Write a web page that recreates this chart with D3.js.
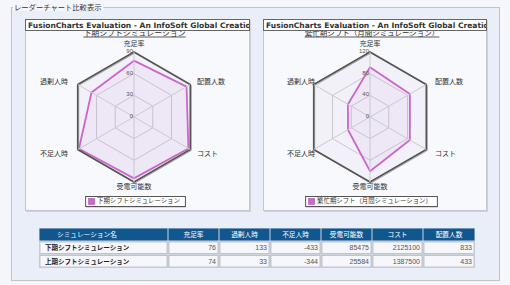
<!DOCTYPE html>
<html><head><meta charset="utf-8">
<script src="https://cdn.jsdelivr.net/npm/d3@7"></script>
<style>html,body{margin:0;padding:0;background:#f4f6fb;} svg{display:block;}</style>
</head><body><svg id="c" width="510" height="285"></svg>
<script>
// ---- data ----
const axisNames = ["充足率", "配置人数", "コスト", "受電可能数", "不足人時", "過剰人時"];
const lowerSeriesName = "下期シフトシミュレーション";
const lowerValues = [78, 84, 87, 85, 88, 68];
const lowerTicks = [0, 30, 60, 90];
const busySeriesName = "繁忙期シフト（月間シミュレーション）";
const busyValues = [92, 85, 85, 100, 47, 47];
const busyTicks = [0, 40, 80, 120];
const chartTitle = "FusionCharts Evaluation - An InfoSoft Global Creation";
const fieldsetLegend = "レーダーチャート比較表示";
const tableColumns = ["シミュレーション名", "充足率", "過剰人時", "不足人時", "受電可能数", "コスト", "配置人数"];
const tableRowNames = ["下期シフトシミュレーション", "上期シフトシミュレーション"];
const tableRow1 = [76, 133, -433, 85475, 2125100, 833];
const tableRow2 = [74, 33, -344, 25584, 1387500, 433];

// ---- drawing ----
const JP = "'Noto Sans CJK JP', sans-serif";
const svg = d3.select("#c");
const seriesColor = "#cc66cc";

// fieldset
svg.append("rect").attr("x", 11.5).attr("y", 7.5).attr("width", 488).attr("height", 273)
  .attr("fill", "#e9eef9").attr("stroke", "#bcc3cf");
const lg = svg.append("text").attr("x", 14).attr("y", 10).attr("font-family", JP)
  .attr("font-size", 7.3).attr("fill", "#333").text(fieldsetLegend);
const lgW = lg.node().getComputedTextLength();
svg.insert("rect", "text").attr("x", 13).attr("y", 4).attr("width", lgW + 3).attr("height", 7)
  .attr("fill", "#f4f6fb");

const charts = [
  { name: lowerSeriesName, values: lowerValues, ticks: lowerTicks, px: 25, pw: 225, cx: 134, lgap: 66, rgap: 63, sub: 7.9 },
  { name: busySeriesName, values: busyValues, ticks: busyTicks, px: 263, pw: 224, cx: 370, lgap: 55, rgap: 65, sub: 7.5 }
];
const py = 19, ph = 192, cy = 117, R = 65;

// measure title font
const meas = svg.append("text").attr("font-family", "'DejaVu Sans', sans-serif").attr("font-weight", "bold")
  .attr("font-size", 10).text(chartTitle.slice(0, -1));
const titleFs = 10 * 223 / meas.node().getComputedTextLength();
meas.remove();

charts.forEach((c, ci) => {
  const g = svg.append("g");
  // panel
  g.append("rect").attr("x", c.px + 1).attr("y", py + 1).attr("width", c.pw).attr("height", ph)
    .attr("fill", "#cfd2d8");
  g.append("rect").attr("x", c.px + 0.5).attr("y", py + 0.5).attr("width", c.pw - 1).attr("height", ph - 1)
    .attr("fill", "#f8f9fd").attr("stroke", "#c4c6cc");

  const r = d3.scaleLinear().domain([0, d3.max(c.ticks)]).range([0, R]);
  const ang = i => i * 2 * Math.PI / axisNames.length;
  const pt = (i, v) => [c.cx + r(v) * Math.sin(ang(i)), cy - r(v) * Math.cos(ang(i))];
  const radial = d3.lineRadial().angle((d, i) => ang(i)).radius(d => r(d)).curve(d3.curveLinearClosed);
  const rg = g.append("g").attr("transform", `translate(${c.cx},${cy})`);
  const maxT = d3.max(c.ticks);

  // background
  rg.append("path").attr("d", radial(axisNames.map(() => maxT))).attr("fill", "#f2f1f9");
  // inner rings
  c.ticks.filter(t => t > 0 && t < maxT).forEach(t => {
    rg.append("path").attr("d", radial(axisNames.map(() => t))).attr("fill", "none")
      .attr("stroke", "#c9c9cf").attr("stroke-width", 1);
  });
  // spokes
  axisNames.forEach((a, i) => {
    const p = pt(i, maxT);
    g.append("line").attr("x1", c.cx).attr("y1", cy).attr("x2", p[0]).attr("y2", p[1])
      .attr("stroke", "#c9c9cf").attr("stroke-width", 1);
  });
  // data polygon
  rg.append("path").attr("d", radial(c.values)).attr("fill", seriesColor).attr("fill-opacity", 0.07)
    .attr("stroke", seriesColor).attr("stroke-width", 1.8).attr("stroke-linejoin", "round");
  // outer ring
  rg.append("path").attr("d", radial(axisNames.map(() => maxT))).attr("fill", "none")
    .attr("stroke", "#aaa").attr("stroke-width", 1).attr("transform", "translate(1,1)");
  rg.append("path").attr("d", radial(axisNames.map(() => maxT))).attr("fill", "none")
    .attr("stroke", "#555").attr("stroke-width", 1.6);

  // tick labels
  c.ticks.forEach(t => {
    g.append("text").attr("x", c.cx - 1).attr("y", cy - r(t) - (t === maxT ? 1.5 : 1))
      .attr("dy", "0.35em").attr("text-anchor", "end").attr("font-family", "'Liberation Sans', sans-serif")
      .attr("font-size", 6).attr("fill", "#555").text(t);
  });

  // axis labels
  const lpos = [
    [c.cx, cy - 73.5, "middle"],
    [c.cx + c.rgap, cy - 35, "start"],
    [c.cx + c.rgap, cy + 37, "start"],
    [c.cx, cy + 70, "middle"],
    [c.cx - c.lgap, cy + 37, "end"],
    [c.cx - c.lgap, cy - 35, "end"]
  ];
  axisNames.forEach((a, i) => {
    g.append("text").attr("x", lpos[i][0]).attr("y", lpos[i][1]).attr("dy", "0.35em")
      .attr("text-anchor", lpos[i][2]).attr("font-family", JP).attr("font-size", 7)
      .attr("fill", "#333").text(a);
  });

  // subtitle
  const st = g.append("text").attr("x", c.px + c.pw / 2 - 3).attr("y", 36).attr("text-anchor", "middle")
    .attr("font-family", JP).attr("font-size", c.sub).attr("fill", "#333").text(c.name);
  const sw = st.node().getComputedTextLength();
  g.append("line").attr("x1", c.px + c.pw / 2 - 3 - sw / 2).attr("x2", c.px + c.pw / 2 - 3 + sw / 2)
    .attr("y1", 37).attr("y2", 37).attr("stroke", "#333").attr("stroke-width", 0.8);

  // title box
  const clipId = "clip" + ci;
  svg.append("clipPath").attr("id", clipId).append("rect")
    .attr("x", c.px).attr("y", py).attr("width", c.pw).attr("height", 12);
  const tg = g.append("g").attr("clip-path", `url(#${clipId})`);
  tg.append("rect").attr("x", c.px + 0.5).attr("y", py + 0.5).attr("width", c.pw + 2).attr("height", 11)
    .attr("fill", "#fff").attr("stroke", "#666");
  tg.append("text").attr("x", c.px + 3).attr("y", py + 6).attr("dy", "0.35em")
    .attr("font-family", "'DejaVu Sans', sans-serif").attr("font-weight", "bold")
    .attr("font-size", titleFs).attr("fill", "#333").text(chartTitle);
  g.append("line").attr("x1", c.px + c.pw - 0.5).attr("x2", c.px + c.pw - 0.5).attr("y1", py).attr("y2", py + 12)
    .attr("stroke", "#666");

  // legend
  const lt = g.append("text").attr("y", 201).attr("dy", "0.35em").attr("font-family", JP)
    .attr("font-size", 6.4).attr("fill", "#333").text(c.name);
  const tw = lt.node().getComputedTextLength();
  const bw = tw + 17, bx = c.cx + 1 - bw / 2;
  g.insert("rect", () => lt.node()).attr("x", bx + 1).attr("y", 196.5 + 1).attr("width", bw).attr("height", 10)
    .attr("fill", "#bbb");
  g.insert("rect", () => lt.node()).attr("x", bx + 0.5).attr("y", 196.5).attr("width", bw).attr("height", 10)
    .attr("fill", "#fff").attr("stroke", "#555");
  g.append("rect").attr("x", bx + 3.5).attr("y", 198.5).attr("width", 6).attr("height", 6)
    .attr("fill", seriesColor).attr("stroke", "#a040a0").attr("stroke-width", 0.5);
  lt.attr("x", bx + 12);
});

// ---- table ----
const colX = d3.scaleOrdinal().domain(tableColumns).range([39, 168, 219, 270, 321, 372, 423]);
const colRight = [168, 219, 270, 321, 372, 423, 475];
const rowsY = [228, 241, 254.5, 268];
const tg = svg.append("g");
tg.append("rect").attr("x", 39).attr("y", 228).attr("width", 436).attr("height", 40).attr("fill", "#cfd3da");
tableColumns.forEach((col, i) => {
  const x0 = colX(col), w = colRight[i] - x0;
  tg.append("rect").attr("x", x0 + 0.5).attr("y", rowsY[0] + 0.5).attr("width", w - 1).attr("height", rowsY[1] - rowsY[0] - 1)
    .attr("fill", "#11578f");
  tg.append("text").attr("x", i === 0 ? x0 + 18 : x0 + w / 2).attr("y", (rowsY[0] + rowsY[1]) / 2).attr("dy", "0.35em")
    .attr("text-anchor", i === 0 ? "start" : "middle").attr("font-family", JP).attr("font-size", 6.7)
    .attr("fill", "#fff").text(col);
});
[tableRow1, tableRow2].forEach((row, ri) => {
  const y0 = rowsY[ri + 1], y1 = rowsY[ri + 2];
  const cells = [tableRowNames[ri]].concat(row);
  cells.forEach((v, i) => {
    const x0 = colX(tableColumns[i]), w = colRight[i] - x0;
    tg.append("rect").attr("x", x0 + 1).attr("y", y0 + 1).attr("width", w - 2).attr("height", y1 - y0 - 2)
      .attr("fill", "#f5f7fc").attr("stroke", "#b8bcc4").attr("stroke-width", 0.8);
    if (i === 0) {
      tg.append("text").attr("x", x0 + 6).attr("y", (y0 + y1) / 2).attr("dy", "0.35em")
        .attr("font-family", JP).attr("font-weight", "bold").attr("font-size", 6.5).attr("fill", "#222").text(v);
    } else {
      tg.append("text").attr("x", x0 + w - 3).attr("y", (y0 + y1) / 2).attr("dy", "0.35em")
        .attr("text-anchor", "end").attr("font-family", "'Liberation Sans', sans-serif")
        .attr("font-size", 7).attr("fill", "#555").text(v);
    }
  });
});
</script></body></html>
